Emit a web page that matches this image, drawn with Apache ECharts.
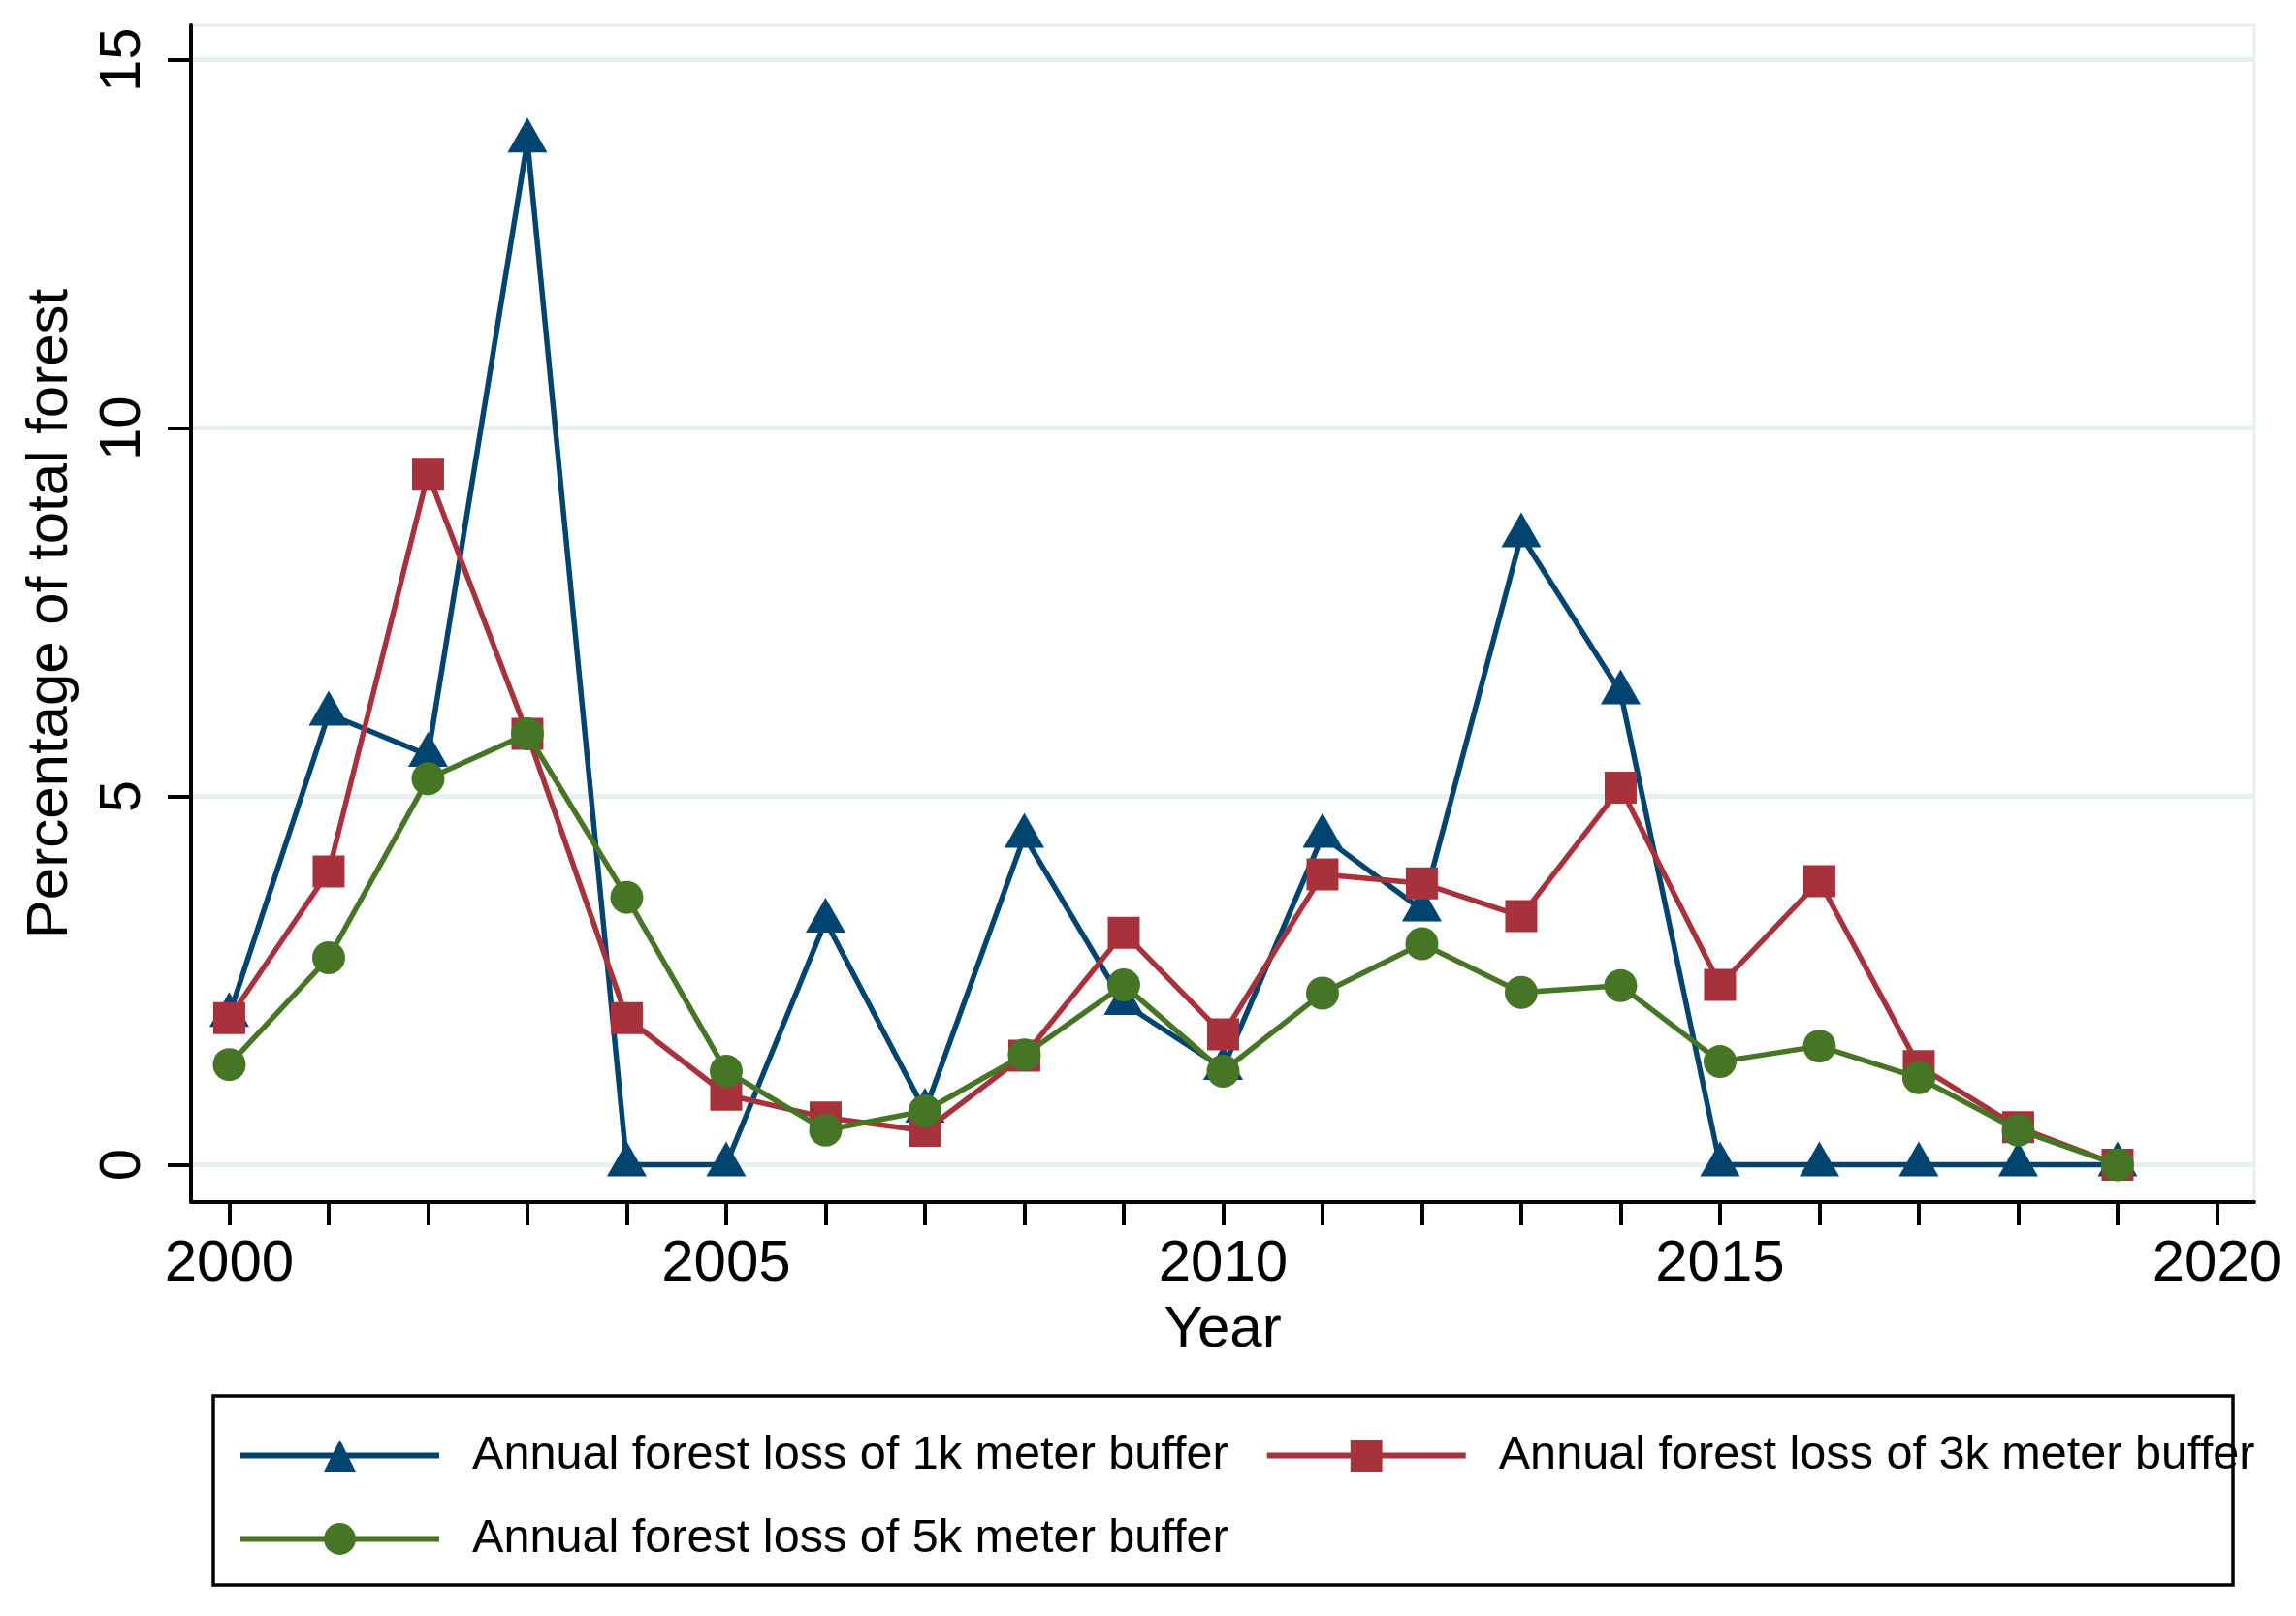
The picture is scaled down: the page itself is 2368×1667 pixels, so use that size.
<!DOCTYPE html>
<html>
<head>
<meta charset="utf-8">
<script src="https://cdn.jsdelivr.net/npm/echarts@6.0.0/dist/echarts.min.js"></script>
<style>
html, body { margin: 0; padding: 0; background: #ffffff; }
#chart { width: 2368px; height: 1667px; }
</style>
</head>
<body>
<div id="chart"></div>
<script>
const years = [2000, 2001, 2002, 2003, 2004, 2005, 2006, 2007, 2008, 2009,
               2010, 2011, 2012, 2013, 2014, 2015, 2016, 2017, 2018, 2019];
const loss1k = [2.03, 6.12, 5.56, 13.9, 0, 0, 3.31, 0.73, 4.46, 2.19,
                1.31, 4.46, 3.46, 8.54, 6.41, 0, 0, 0, 0, 0];
const loss3k = [1.99, 3.98, 9.38, 5.85, 1.99, 0.95, 0.64, 0.46, 1.48, 3.15,
                1.77, 3.94, 3.82, 3.375, 5.12, 2.44, 3.85, 1.34, 0.51, 0];
const loss5k = [1.36, 2.81, 5.24, 5.85, 3.63, 1.27, 0.47, 0.73, 1.49, 2.44,
                1.27, 2.33, 3.0, 2.34, 2.43, 1.40, 1.61, 1.18, 0.47, 0];
const seriesNames = ['Annual forest loss of 1k meter buffer',
                     'Annual forest loss of 3k meter buffer',
                     'Annual forest loss of 5k meter buffer'];
const xTickValues = [2000, 2001, 2002, 2003, 2004, 2005, 2006, 2007, 2008, 2009, 2010,
                     2011, 2012, 2013, 2014, 2015, 2016, 2017, 2018, 2019, 2020];
const xLabelValues = [2000, 2005, 2010, 2015, 2020];
const yTickValues = [0, 5, 10, 15];

const FONT = '"Liberation Sans", Arial, Helvetica, sans-serif';
const colors = ['#00446f', '#a8323b', '#467525'];

function pairs(vals) { return years.map((y, i) => [y, vals[i]]); }

const chart = echarts.init(document.getElementById('chart'), null, { renderer: 'canvas' });
chart.setOption({
  animation: false,
  backgroundColor: '#ffffff',
  textStyle: { fontFamily: FONT },
  grid: {
    left: 197, right: 43, top: 26, bottom: 427,
    show: true, borderColor: '#e6f0f0', borderWidth: 3, backgroundColor: '#ffffff'
  },
  xAxis: {
    type: 'value',
    min: 1999.615, max: 2020.376,
    name: 'Year', nameLocation: 'middle', nameGap: 102,
    nameTextStyle: { fontSize: 60, color: '#000', fontFamily: FONT },
    axisLine: { show: true, onZero: false, lineStyle: { color: '#000', width: 4 } },
    axisTick: { show: true, length: 24, lineStyle: { color: '#000', width: 4 }, customValues: xTickValues },
    axisLabel: { show: true, fontSize: 60, color: '#000', margin: 34, fontFamily: FONT, customValues: xLabelValues,
                 formatter: v => String(v) },
    splitLine: { show: false }
  },
  yAxis: {
    type: 'value',
    min: -0.507, max: 15.47,
    name: 'Percentage of total forest', nameLocation: 'middle', nameGap: 115, nameRotate: 90,
    nameTextStyle: { fontSize: 60, color: '#000', fontFamily: FONT },
    axisLine: { show: true, onZero: false, lineStyle: { color: '#000', width: 4 } },
    axisTick: { show: true, length: 24, lineStyle: { color: '#000', width: 4 }, customValues: yTickValues },
    axisLabel: { show: true, fontSize: 60, color: '#000', margin: 40, rotate: 90, fontFamily: FONT,
                 customValues: yTickValues, formatter: v => String(v) },
    splitLine: { show: true, lineStyle: { color: '#e6f0f0', width: 5 } }
  },
  legend: {
    show: true,
    data: seriesNames,
    left: 245, top: 1477, width: 2100,
    orient: 'horizontal',
    padding: 0,
    itemWidth: 205, itemHeight: 41, itemGap: 37,
    lineStyle: { width: 6 },
    textStyle: { fontSize: 48.6, color: '#000', fontFamily: FONT, lineHeight: 41, padding: [0, 0, 0, 29] }
  },
  graphic: [{
    type: 'rect', z: 100,
    shape: { x: 220, y: 1440, width: 2083, height: 195 },
    style: { fill: 'none', stroke: '#000', lineWidth: 3.5 }
  }],
  series: [
    {
      name: seriesNames[0], type: 'line', data: pairs(loss1k),
      symbol: 'triangle', symbolSize: [41, 36], symbolOffset: [0, -6],
      lineStyle: { color: colors[0], width: 5.5 },
      itemStyle: { color: colors[0] },
      z: 3
    },
    {
      name: seriesNames[1], type: 'line', data: pairs(loss3k),
      symbol: 'rect', symbolSize: 33,
      lineStyle: { color: colors[1], width: 5.5 },
      itemStyle: { color: colors[1] },
      z: 4
    },
    {
      name: seriesNames[2], type: 'line', data: pairs(loss5k),
      symbol: 'circle', symbolSize: 34,
      lineStyle: { color: colors[2], width: 5.5 },
      itemStyle: { color: colors[2] },
      z: 5
    }
  ]
});
</script>
</body>
</html>
